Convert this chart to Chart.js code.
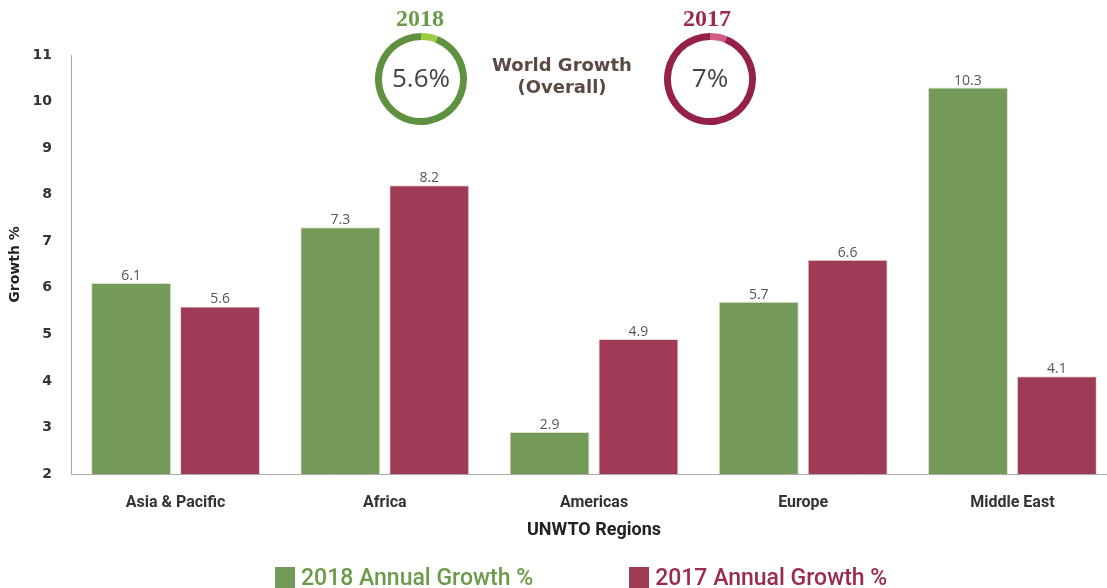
<!DOCTYPE html>
<html>
<head>
<meta charset="utf-8">
<script src="https://cdn.jsdelivr.net/npm/chart.js@4.4.1/dist/chart.umd.min.js"></script>
<style>
  body { margin: 0; background: #fff; }
  #wrap { position: relative; width: 1107px; height: 588px; overflow: hidden; }
  #main { position: absolute; left: 0; top: 0; }
  .ring { position: absolute; top: 33px; }
  .year { position: absolute; top: 5px; width: 100px; text-align: center;
          font: bold 24px "Liberation Serif", serif; }
  #world { position: absolute; left: 472px; top: 54px; width: 180px; text-align: center;
           font: bold 18px "DejaVu Sans", sans-serif; color: #5b4a42; line-height: 22px; }
  #legend { position: absolute; top: 564px; left: 275px; display: flex; }
  .legItem { display: flex; align-items: center; margin-right: 96px;
             font: 500 23px Roboto, sans-serif; }
  .legBox { width: 20px; height: 21px; margin-right: 6px; }
</style>
</head>
<body>
<div id="wrap">
  <!-- canvas a bit wider than the page: the plot runs past the right edge -->
  <canvas id="main" width="1117" height="588"></canvas>
  <div class="year" id="year0" style="left:370px"></div>
  <div class="year" id="year1" style="left:657px"></div>
  <canvas class="ring" id="ring0" width="92" height="92" style="left:375px"></canvas>
  <canvas class="ring" id="ring1" width="92" height="92" style="left:664px"></canvas>
  <div id="world">World Growth<br>(Overall)</div>
  <div id="legend"></div>
</div>
<script>
// chart data
const regions = ["Asia & Pacific", "Africa", "Americas", "Europe", "Middle East"];
const growth2018 = [6.1, 7.3, 2.9, 5.7, 10.3];
const growth2017 = [5.6, 8.2, 4.9, 6.6, 4.1];
const seriesLabels = ["2018 Annual Growth %", "2017 Annual Growth %"];
const yMin = 2;
const yMax = 11;

// world growth rings at the top
const worldYears = ["2018", "2017"];
const worldGrowth = [5.6, 7];
const ringSplit = [6, 94]; // light accent arc, rest of ring

const barColors = ["#739a58", "#a03b57"];
const textColors = ["#6b9a48", "#9c2a50"];
const ringColors = [["#9ccc45", "#5f9140"], ["#cf5d87", "#95214a"]];

// value labels above each bar
const barValueLabels = {
  id: "barValueLabels",
  afterDatasetsDraw(chart) {
    const ctx = chart.ctx;
    ctx.save();
    ctx.font = '14px "Open Sans", sans-serif';
    ctx.fillStyle = "#555";
    ctx.textAlign = "center";
    ctx.textBaseline = "alphabetic";
    chart.data.datasets.forEach((ds, i) => {
      chart.getDatasetMeta(i).data.forEach((bar, j) => {
        ctx.fillText(ds.data[j], bar.x, bar.y - 3);
      });
    });
    ctx.restore();
  },
};

new Chart(document.getElementById("main"), {
  type: "bar",
  data: {
    labels: regions,
    datasets: [
      { label: seriesLabels[0], data: growth2018, backgroundColor: barColors[0],
        borderColor: "#e6dfc8", borderWidth: 1 },
      { label: seriesLabels[1], data: growth2017, backgroundColor: barColors[1],
        borderColor: "#e6dfc8", borderWidth: 1 },
    ],
  },
  options: {
    responsive: false,
    animation: false,
    layout: { padding: { top: 55, right: 0, bottom: 40, left: 0 } },
    datasets: { bar: { categoryPercentage: 0.85, barPercentage: 0.9 } },
    plugins: { legend: { display: false }, tooltip: { enabled: false } },
    scales: {
      x: {
        grid: { display: false },
        border: { display: true, color: "#aaa", width: 1 },
        ticks: { color: "#333", padding: 11, font: { family: "Roboto", size: 16, weight: "bold" } },
        title: { display: true, text: "UNWTO Regions", color: "#222",
                 padding: { top: 0, bottom: 7 },
                 font: { family: "Roboto", size: 18, weight: "bold" } },
        afterFit: (scale) => { scale.height = 74; },
      },
      y: {
        min: yMin,
        max: yMax,
        grid: { display: false },
        border: { display: true, color: "#aaa", width: 1 },
        ticks: { stepSize: 1, color: "#333", padding: 11,
                 font: { family: "DejaVu Sans", size: 14, weight: "bold" } },
        title: { display: true, text: "Growth %", color: "#222",
                 padding: { top: 7, bottom: 0 },
                 font: { family: "DejaVu Sans", size: 14, weight: "bold" } },
        afterFit: (scale) => { scale.width = 71; },
      },
    },
  },
  plugins: [barValueLabels],
});

// rings with the overall figure in the middle
worldGrowth.forEach((value, i) => {
  document.getElementById("year" + i).textContent = worldYears[i];
  document.getElementById("year" + i).style.color = textColors[i];
  new Chart(document.getElementById("ring" + i), {
    type: "doughnut",
    data: {
      datasets: [{ data: ringSplit, backgroundColor: ringColors[i], borderWidth: 0 }],
    },
    options: {
      responsive: false,
      animation: false,
      cutout: "85%",
      plugins: { legend: { display: false }, tooltip: { enabled: false } },
    },
    plugins: [{
      id: "centerText",
      afterDraw(chart) {
        const { ctx, chartArea } = chart;
        ctx.save();
        ctx.font = '26px "Open Sans", sans-serif';
        ctx.fillStyle = "#444";
        ctx.textAlign = "center";
        ctx.textBaseline = "middle";
        ctx.fillText(value + "%", (chartArea.left + chartArea.right) / 2,
                     (chartArea.top + chartArea.bottom) / 2 + 1);
        ctx.restore();
      },
    }],
  });
});

// legend under the chart
const legend = document.getElementById("legend");
seriesLabels.forEach((label, i) => {
  const item = document.createElement("div");
  item.className = "legItem";
  item.style.color = textColors[i];
  item.innerHTML = `<span class="legBox" style="background:${barColors[i]}"></span>${label}`;
  legend.appendChild(item);
});
</script>
</body>
</html>
